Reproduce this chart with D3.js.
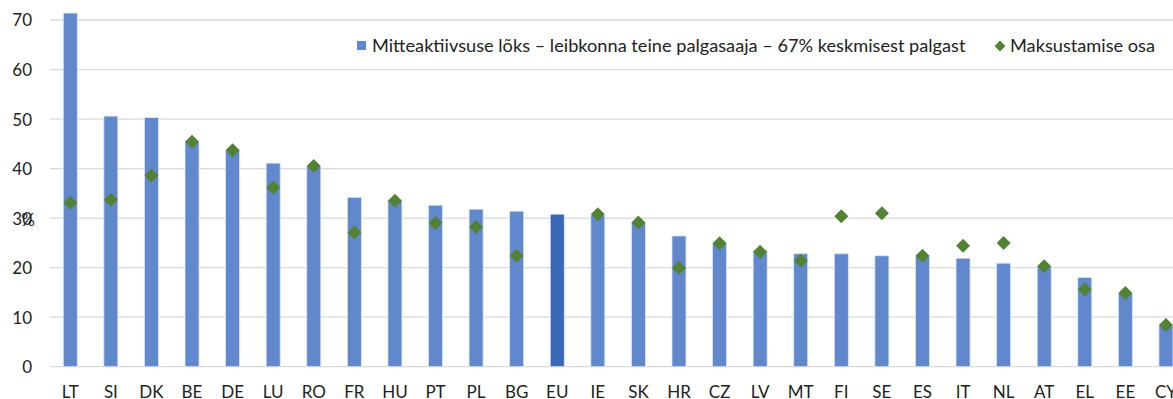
<!DOCTYPE html>
<html>
<head>
<meta charset="utf-8">
<script src="https://cdn.jsdelivr.net/npm/d3@7"></script>
<style>
  html, body { margin: 0; padding: 0; background: #fff; overflow: hidden; }
  text { font-family: Lato, "Open Sans", sans-serif; fill: #222; }
</style>
</head>
<body>
<svg id="chart" width="1173" height="399"></svg>
<script>
// Country codes along the x axis
const countries = ["LT","SI","DK","BE","DE","LU","RO","FR","HU","PT","PL","BG","EU","IE","SK","HR","CZ","LV","MT","FI","SE","ES","IT","NL","AT","EL","EE","CY"];
// Inactivity trap, second earner at 67% of average wage (%)
const trapValues = [71.4,50.6,50.3,45.5,43.7,41.1,40.4,34.2,33.7,32.6,31.8,31.4,30.8,30.6,29.1,26.4,24.9,23.4,22.8,22.8,22.4,22.4,21.9,20.9,20.3,18.0,14.9,8.4];
// Taxation component (%); EU has no value
const taxValues = [33.1,33.7,38.6,45.4,43.7,36.2,40.5,27.1,33.5,29.0,28.2,22.4,null,30.8,29.1,20.0,24.9,23.2,21.4,30.4,31.0,22.4,24.4,25.0,20.3,15.6,14.9,8.4];
const yTicks = [0,10,20,30,40,50,60,70];
const legendLabels = ["Mitteaktiivsuse lõks – leibkonna teine palgasaaja – 67% keskmisest palgast", "Maksustamise osa"];

const barColor = "#6188cd";
const euColor = "#3a67b6";
const diamondColor = "#548235";

const svg = d3.select("#chart");
const plotLeft = 50, step = 40.58;
const plotRight = plotLeft + step * countries.length;

const x = d3.scaleBand().domain(countries).range([plotLeft, plotRight]).paddingInner(0.655).paddingOuter(0.3275);
const y = d3.scaleLinear().domain([0, 70]).range([366.7, 20]);

// Gridlines
svg.append("g").selectAll("line").data(yTicks).join("line")
  .attr("x1", plotLeft).attr("x2", plotRight)
  .attr("y1", d => y(d)).attr("y2", d => y(d))
  .attr("stroke", "#d9d9d9").attr("stroke-width", 1.3);

// Y axis labels
const yAxis = d3.axisLeft(y).tickValues(yTicks).tickSize(0).tickPadding(0);
const gy = svg.append("g").attr("transform", "translate(32,0)").call(yAxis);
gy.select(".domain").remove();
gy.selectAll("text").style("font-size", "17px").attr("dy", "0.35em").attr("fill", "#222");

// Axis title, sitting on the 30 tick as in the original layout
svg.append("text").attr("x", 28).attr("y", y(30) + 8).attr("text-anchor", "middle")
  .style("font-size", "17px").text("%");

// Bars
svg.append("g").selectAll("rect").data(countries).join("rect")
  .attr("x", d => x(d)).attr("width", x.bandwidth())
  .attr("y", (d, i) => y(trapValues[i]))
  .attr("height", (d, i) => y(0) - y(trapValues[i]))
  .attr("fill", d => d === "EU" ? euColor : barColor)
  .attr("stroke", "#dbe5f5").attr("stroke-width", 0.8);

// Diamonds
const diamond = d3.symbol().type(d3.symbolSquare).size(98);
svg.append("g").selectAll("path").data(countries.map((c, i) => ({c, v: taxValues[i]})).filter(d => d.v != null)).join("path")
  .attr("d", diamond)
  .attr("transform", d => `translate(${x(d.c) + x.bandwidth() / 2},${y(d.v)}) rotate(45)`)
  .attr("fill", diamondColor);

// X axis labels
const xAxis = d3.axisBottom(x).tickSize(0).tickPadding(0);
const gx = svg.append("g").attr("transform", "translate(0,398)").call(xAxis);
gx.select(".domain").remove();
gx.selectAll("text").attr("dy", "0").style("font-size", "17px").attr("fill", "#222");

// Legend
const lg = svg.append("g");
lg.append("rect").attr("x", 357).attr("y", 41).attr("width", 9).attr("height", 9).attr("fill", barColor);
lg.append("text").attr("x", 372).attr("y", 52).style("font-size", "18.2px").text(legendLabels[0]);
lg.append("path").attr("d", d3.symbol().type(d3.symbolSquare).size(60))
  .attr("transform", "translate(1000,46) rotate(45)").attr("fill", diamondColor);
lg.append("text").attr("x", 1010).attr("y", 52).style("font-size", "18.2px").text(legendLabels[1]);
</script>
</body>
</html>
